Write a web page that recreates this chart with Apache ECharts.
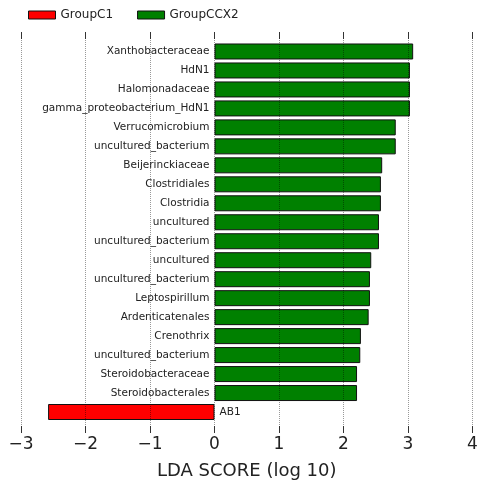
<!DOCTYPE html>
<html>
<head>
<meta charset="utf-8">
<script src="https://cdn.jsdelivr.net/npm/echarts@6/dist/echarts.min.js"></script>
<style>
  html, body { margin: 0; padding: 0; background: #fff; }
  #chart { width: 482px; height: 487px; }
</style>
</head>
<body>
<div id="chart"></div>
<script>
// LEfSe features, top to bottom
const taxa = [
  'Xanthobacteraceae', 'HdN1', 'Halomonadaceae', 'gamma_proteobacterium_HdN1',
  'Verrucomicrobium', 'uncultured_bacterium', 'Beijerinckiaceae', 'Clostridiales',
  'Clostridia', 'uncultured', 'uncultured_bacterium', 'uncultured',
  'uncultured_bacterium', 'Leptospirillum', 'Ardenticatenales', 'Crenothrix',
  'uncultured_bacterium', 'Steroidobacteraceae', 'Steroidobacterales', 'AB1'
];
// LDA scores (log10); negative values belong to GroupC1
const ldaScores = [
  3.08, 3.03, 3.03, 3.03,
  2.81, 2.81, 2.60, 2.58,
  2.58, 2.55, 2.55, 2.43,
  2.41, 2.41, 2.39, 2.27,
  2.26, 2.21, 2.21, -2.58
];
const groupNames = ['GroupC1', 'GroupCCX2'];
const groupColors = ['#ff0000', '#008000'];
const xTicks = [-3, -2, -1, 0, 1, 2, 3, 4];

const chart = echarts.init(document.getElementById('chart'));
const rowIds = taxa.map((t, i) => 'r' + i);

function seriesFor(g) {
  return {
    name: groupNames[g],
    type: 'bar',
    xAxisIndex: 0,
    yAxisIndex: 0,
    barWidth: 16,
    barGap: '-100%',
    itemStyle: { color: groupColors[g], borderColor: '#111', borderWidth: 1 },
    label: {
      show: true,
      distance: 5,
      fontFamily: 'DejaVu Sans',
      fontSize: 10.5,
      color: '#222',
      formatter: p => taxa[p.dataIndex]
    },
    data: ldaScores.map(v => {
      const belongs = g === 0 ? v < 0 : v >= 0;
      if (!belongs) return '-';
      return { value: v, label: { position: v < 0 ? 'right' : 'left' } };
    }),
    z: 2
  };
}

const fmt = v => (v < 0 ? '\u2212' + Math.abs(v) : String(v));
const xMin = xTicks[0], xMax = xTicks[xTicks.length - 1];

chart.setOption({
  animation: false,
  backgroundColor: '#fff',
  legend: {
    left: 23,
    top: 4,
    itemWidth: 27,
    itemHeight: 8,
    itemGap: 24,
    icon: 'rect',
    textStyle: { fontFamily: 'DejaVu Sans', fontSize: 12, color: '#222' },
    data: groupNames.map((n, g) => ({
      name: n,
      itemStyle: { color: groupColors[g], borderColor: '#111', borderWidth: 1 }
    }))
  },
  grid: [
    // bar rows
    { left: 21, right: 9.5, top: 42, bottom: 65.5 },
    // full-height frame for ticks and dotted grid
    { left: 21, right: 9.5, top: 32, bottom: 54 }
  ],
  xAxis: [
    { type: 'value', gridIndex: 0, min: xMin, max: xMax, interval: 1, show: false },
    {
      type: 'value',
      gridIndex: 1,
      position: 'bottom',
      min: xMin,
      max: xMax,
      interval: 1,
      z: 5,
      axisLine: { show: false },
      axisTick: { show: true, inside: true, length: 7, lineStyle: { color: '#333', width: 1 } },
      splitLine: { show: true, lineStyle: { type: 'dotted', color: 'rgba(0,0,0,0.4)', width: 1 } },
      axisLabel: {
        fontFamily: 'DejaVu Sans',
        fontSize: 17,
        color: '#222',
        margin: 3,
        formatter: fmt
      },
      name: 'LDA SCORE (log 10)',
      nameLocation: 'middle',
      nameGap: 29,
      nameTextStyle: { fontFamily: 'DejaVu Sans', fontSize: 18, color: '#222' }
    },
    {
      type: 'value',
      gridIndex: 1,
      position: 'top',
      min: xMin,
      max: xMax,
      interval: 1,
      z: 5,
      axisLine: { show: false },
      axisTick: { show: true, inside: true, length: 7, lineStyle: { color: '#333', width: 1 } },
      splitLine: { show: false },
      axisLabel: { show: false }
    }
  ],
  yAxis: [
    { type: 'category', gridIndex: 0, inverse: true, data: rowIds, show: false },
    { type: 'value', gridIndex: 1, show: false }
  ],
  series: [seriesFor(0), seriesFor(1)]
});
</script>
</body>
</html>
